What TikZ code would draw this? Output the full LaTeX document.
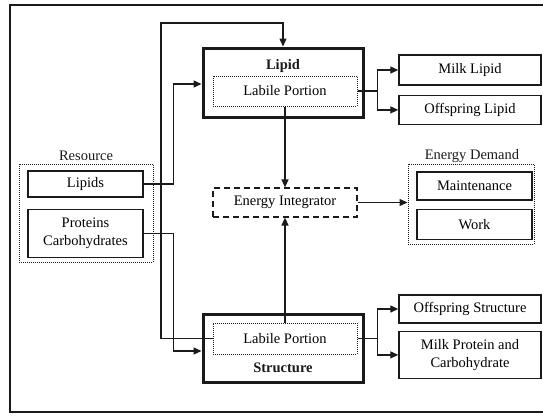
\documentclass[tikz,border=0pt]{standalone}
\usepackage{fontspec}
\setmainfont{Liberation Serif}
\usetikzlibrary{positioning,arrows.meta,calc}
\definecolor{mbInk}{HTML}{1A1A1A}
\definecolor{mbWhite}{HTML}{FFFFFF}
\tikzset{
  mb-box/.style={
    draw=mbInk, line width=1.4pt, fill=mbWhite,
    font=\fontsize{14.5}{18}\selectfont, align=center, inner sep=0pt
  },
  mb-thick/.style={mb-box, line width=3pt},
  mb-dot/.style={mb-box, line width=1pt, dash pattern=on 1pt off 1pt},
  mb-dash/.style={mb-box, line width=1.2pt, dash pattern=on 6pt off 4pt},
  mb-group/.style={draw=mbInk, line width=1pt, dash pattern=on 1pt off 1pt,
    inner sep=0pt},
  mb-flow/.style={-{Triangle[length=8pt,width=7pt]}, line width=1.3pt, draw=mbInk},
  mb-title/.style={font=\fontsize{14.5}{18}\selectfont, inner sep=0pt,
    text=mbInk, anchor=base}
}

\begin{document}
\begin{tikzpicture}[x=1pt, y=-1pt]
\useasboundingbox (0,0) rectangle (543,418);
% --- frame ---
\draw[line width=1.3pt, draw=mbInk] (560,5) -- (10,5) -- (10,412) -- (560,412);

% --- Resource ---
\node[mb-group, minimum width=134, minimum height=98] (resource) at (86,213) {};
\node[mb-title] (restitle) at (86,160) {Resource};
\node[mb-box, minimum width=115, minimum height=26] (lipids) at (85.5,184) {Lipids};
\node[mb-box, minimum width=115, minimum height=48, below=11pt of lipids]
  (proteins) {Proteins\\Carbohydrates};

% --- Lipid pool ---
\node[mb-thick, minimum width=160, minimum height=69] (lipid) at (283,82.5) {};
\node[mb-title, font=\fontsize{14.5}{18}\selectfont\bfseries] (lipidname) at (283,69) {Lipid};
\node[mb-dot, minimum width=144, minimum height=30] (lipidlab) at (285,91) {Labile Portion};

% --- Structure pool ---
\node[mb-thick, minimum width=160, minimum height=68] (struct) at (283,348) {};
\node[mb-title, font=\fontsize{14.5}{18}\selectfont\bfseries] (structname) at (283,372) {Structure};
\node[mb-dot, minimum width=144, minimum height=31] (structlab) at (285,338.5) {Labile Portion};

% --- Energy ---
\node[mb-dash, minimum width=144, minimum height=29] (integ) at (285,202.5) {Energy Integrator};
\node[mb-group, minimum width=126, minimum height=80] (demand) at (471,204) {};
\node[mb-title] (demtitle) at (472,159) {Energy Demand};
\node[mb-box, minimum width=115, minimum height=28] (maint) at (474.5,186) {Maintenance};
\node[mb-box, minimum width=115, minimum height=30, below=8pt of maint] (work) {Work};

% --- Outputs ---
\node[mb-box, minimum width=142, minimum height=30] (milklipid) at (470,70) {Milk Lipid};
\node[mb-box, minimum width=142, minimum height=29, below=9pt of milklipid] (offlipid) {Offspring Lipid};
\node[mb-box, minimum width=142, minimum height=28] (offstruct) at (470,309) {Offspring Structure};
\node[mb-box, minimum width=142, minimum height=47, below=7pt of offstruct]
  (milkprot) {Milk Protein and\\Carbohydrate};

% --- Flux ---
\coordinate (loop) at (161,23);
\draw[mb-flow] (lipids.east) -- ++(30,0) |- ([yshift=-1.5pt]lipid.west);
\draw[mb-flow] (proteins.east) -- ++(30,0) |- ([yshift=-3pt]struct.west);
\draw[mb-flow] (structlab.west) -| (loop) -| (lipid.north);
\draw[mb-flow] (lipidlab.south) -- (integ.north);
\draw[mb-flow] (structlab.north) -- (integ.south);
\draw[mb-flow] (integ.east) -- (integ.east -| demand.west);
\draw[mb-flow] (lipidlab.east) -- ++(20,0) |- (milklipid.west);
\draw[mb-flow] (lipidlab.east) -- ++(20,0) |- (offlipid.west);
\draw[mb-flow] (structlab.east) -- ++(20,0) |- (offstruct.west);
\draw[mb-flow] (structlab.east) -- ++(20,0) |- (milkprot.west);
\end{tikzpicture}
\end{document}
